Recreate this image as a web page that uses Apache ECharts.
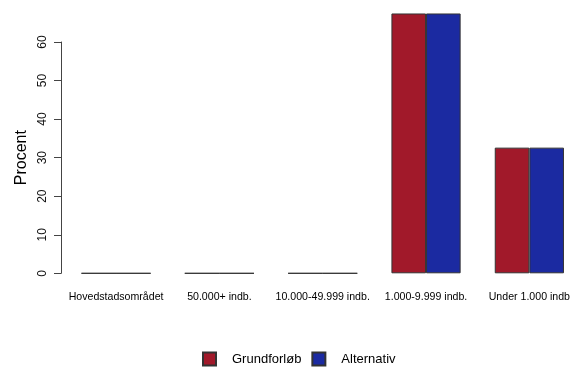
<!DOCTYPE html>
<html><head><meta charset="utf-8">
<script src="https://cdn.jsdelivr.net/npm/echarts@6/dist/echarts.min.js"></script>
<style>html,body{margin:0;padding:0;background:#fff}#c{width:573px;height:369px}</style>
</head><body><div id="c"></div>
<script>
const categories = ["Hovedstadsområdet","50.000+ indb.","10.000-49.999 indb.","1.000-9.999 indb.","Under 1.000 indb"];
const grundforlob = [0,0,0,67.4,32.6];
const alternativ = [0,0,0,67.4,32.6];
const seriesNames = ["Grundforløb","Alternativ"];
const yTicks = [0,10,20,30,40,50,60];

const idx = categories.map((c,i)=>i);
const chart = echarts.init(document.getElementById('c'), null, {renderer:'canvas'});
const font = "'Liberation Sans', Arial, sans-serif";
chart.setOption({
  animation:false,
  backgroundColor:'#fff',
  grid:{left:64.4, top:42, right:0, bottom:95.7, containLabel:false},
  xAxis:{type:'value', min:-0.5, max:4.4,
    splitLine:{show:false},
    axisLine:{show:false, onZero:false}, axisTick:{show:false},
    axisLabel:{customValues:idx, formatter:v=>categories[Math.round(v)] || '', showMinLabel:true, showMaxLabel:true,
      color:'#000', fontFamily:font, fontSize:10.6, margin:18}},
  yAxis:{type:'value', min:yTicks[0], max:yTicks[yTicks.length-1], interval:10, offset:3.4,
    name:'Procent', nameLocation:'middle', nameGap:31, nameRotate:90,
    nameTextStyle:{color:'#000', fontFamily:font, fontSize:16},
    splitLine:{show:false},
    axisLine:{show:true, onZero:false, lineStyle:{color:'#444', width:1}},
    axisTick:{show:true, length:7, lineStyle:{color:'#444'}},
    axisLabel:{rotate:90, color:'#111', fontFamily:font, fontSize:12, margin:12}},
  legend:{bottom:2.5, left:202, padding:0, icon:'rect', itemWidth:13, itemHeight:13, itemGap:10,
    textStyle:{fontFamily:font, fontSize:13, color:'#000', padding:[0,0,0,11]},
    data:seriesNames},
  series:[
    {name:seriesNames[0], type:'bar', data:idx.map(i=>[i, grundforlob[i]]), barWidth:34.6, barGap:'0%', clip:false,
     itemStyle:{color:'#A1192A', borderColor:'#333', borderWidth:1}},
    {name:seriesNames[1], type:'bar', data:idx.map(i=>[i, alternativ[i]]), barWidth:34.6, barGap:'0%', clip:false,
     itemStyle:{color:'#1B2AA1', borderColor:'#333', borderWidth:1}}
  ]
});
</script></body></html>
